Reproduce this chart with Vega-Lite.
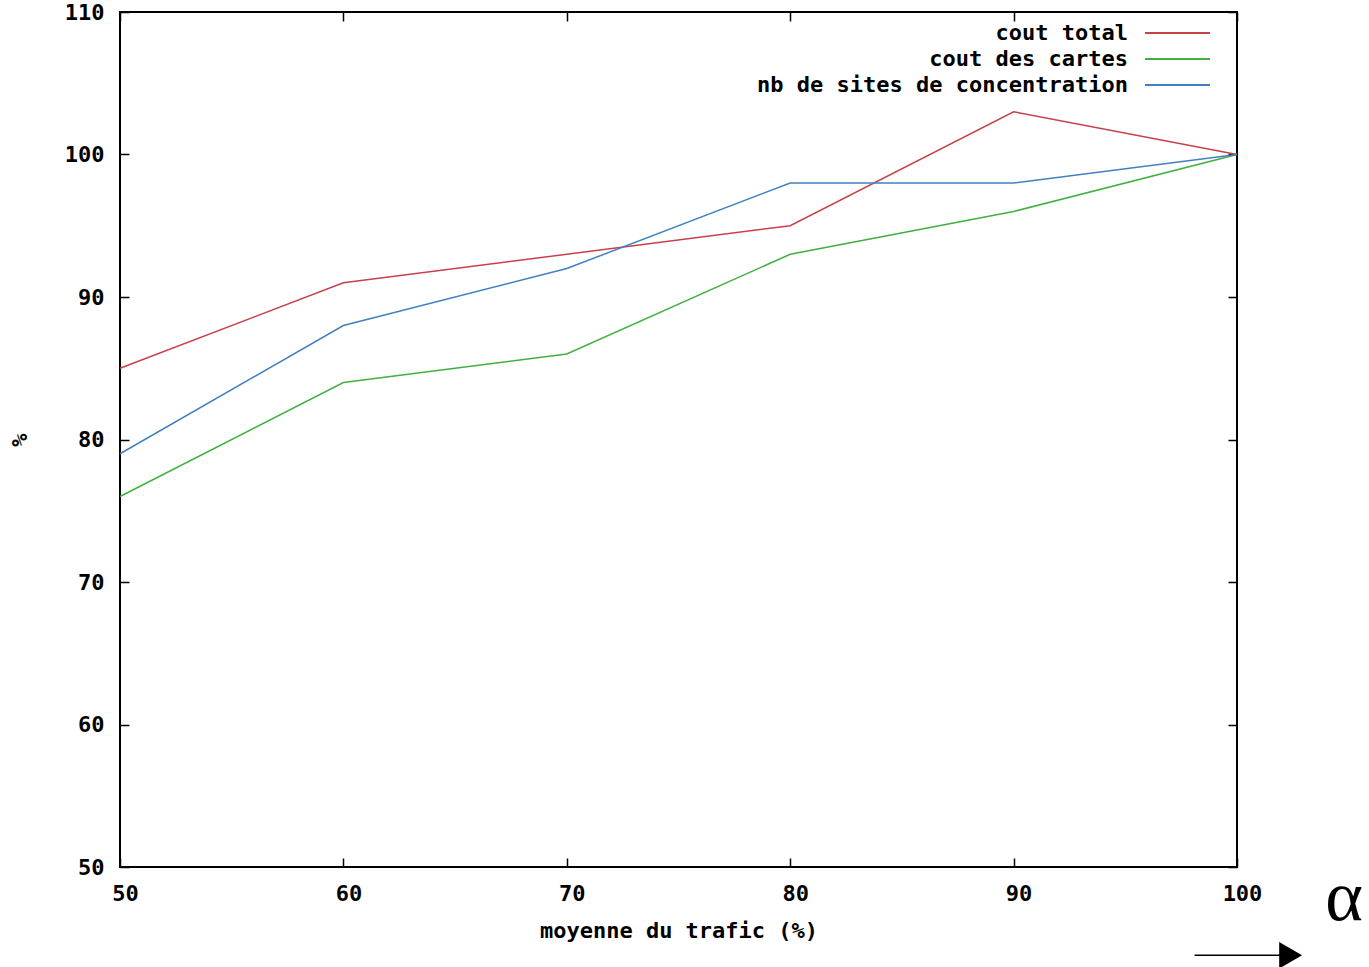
{
  "$schema": "https://vega.github.io/schema/vega-lite/v6.json",
  "width": 1117,
  "height": 855,
  "autosize": {"type": "none"},
  "padding": {"left": 120, "top": 12, "right": 132, "bottom": 100},
  "background": "white",
  "config": {
    "view": {"stroke": "black", "strokeWidth": 2},
    "font": "DejaVu Sans Mono",
    "axis": {
      "domain": false,
      "grid": false,
      "ticks": true,
      "tickColor": "black",
      "tickWidth": 1.5,
      "tickSize": -9,
      "labelFlush": false,
      "labelFont": "DejaVu Sans Mono",
      "labelFontWeight": "bold",
      "labelFontSize": 22,
      "labelColor": "black",
      "titleFont": "DejaVu Sans Mono",
      "titleFontWeight": "bold",
      "titleFontSize": 22,
      "titleColor": "black"
    },
    "text": {"font": "DejaVu Sans Mono", "fontWeight": "bold", "fontSize": 22, "color": "black"}
  },
  "datasets": {
    "series": [
      {"trafic": 50, "serie": "cout total", "pct": 85},
      {"trafic": 60, "serie": "cout total", "pct": 91},
      {"trafic": 70, "serie": "cout total", "pct": 93},
      {"trafic": 80, "serie": "cout total", "pct": 95},
      {"trafic": 90, "serie": "cout total", "pct": 103},
      {"trafic": 100, "serie": "cout total", "pct": 100},
      {"trafic": 50, "serie": "cout des cartes", "pct": 76},
      {"trafic": 60, "serie": "cout des cartes", "pct": 84},
      {"trafic": 70, "serie": "cout des cartes", "pct": 86},
      {"trafic": 80, "serie": "cout des cartes", "pct": 93},
      {"trafic": 90, "serie": "cout des cartes", "pct": 96},
      {"trafic": 100, "serie": "cout des cartes", "pct": 100},
      {"trafic": 50, "serie": "nb de sites de concentration", "pct": 79},
      {"trafic": 60, "serie": "nb de sites de concentration", "pct": 88},
      {"trafic": 70, "serie": "nb de sites de concentration", "pct": 92},
      {"trafic": 80, "serie": "nb de sites de concentration", "pct": 98},
      {"trafic": 90, "serie": "nb de sites de concentration", "pct": 98},
      {"trafic": 100, "serie": "nb de sites de concentration", "pct": 100}
    ],
    "one": [{}]
  },
  "resolve": {"axis": {"x": "independent", "y": "independent"}},
  "layer": [
    {
      "data": {"name": "series"},
      "mark": {"type": "line", "strokeWidth": 1.5},
      "encoding": {
        "x": {
          "field": "trafic", "type": "quantitative",
          "scale": {"domain": [50, 100], "nice": false, "zero": false},
          "axis": {"orient": "bottom", "values": [50, 60, 70, 80, 90, 100], "labelPadding": 25, "labelOffset": 5, "title": "moyenne du trafic (%)", "titlePadding": 16}
        },
        "y": {
          "field": "pct", "type": "quantitative",
          "scale": {"domain": [50, 110], "nice": false, "zero": false},
          "axis": {"orient": "left", "values": [50, 60, 70, 80, 90, 100, 110], "labelPadding": 25, "title": "%", "titlePadding": 33}
        },
        "color": {
          "field": "serie", "type": "nominal",
          "scale": {
            "domain": ["cout total", "cout des cartes", "nb de sites de concentration"],
            "range": ["#c8404a", "#40b040", "#4080c0"]
          },
          "legend": null
        }
      }
    },
    {
      "data": {"name": "series"},
      "mark": {"type": "line", "opacity": 0},
      "encoding": {
        "x": {
          "field": "trafic", "type": "quantitative",
          "axis": {"orient": "top", "values": [50, 60, 70, 80, 90, 100], "labels": false, "title": null}
        },
        "y": {
          "field": "pct", "type": "quantitative",
          "axis": {"orient": "right", "values": [50, 60, 70, 80, 90, 100, 110], "labels": false, "title": null}
        },
        "detail": {"field": "serie"}
      }
    },
    {
      "data": {"name": "one"},
      "mark": {"type": "text", "align": "right", "baseline": "middle"},
      "encoding": {
        "x": {"datum": 95.12, "type": "quantitative", "axis": null},
        "y": {"datum": 108.53, "type": "quantitative", "axis": null},
        "text": {"value": "cout total"}
      }
    },
    {
      "data": {"name": "one"},
      "mark": {"type": "text", "align": "right", "baseline": "middle"},
      "encoding": {
        "x": {"datum": 95.12, "type": "quantitative", "axis": null},
        "y": {"datum": 106.7, "type": "quantitative", "axis": null},
        "text": {"value": "cout des cartes"}
      }
    },
    {
      "data": {"name": "one"},
      "mark": {"type": "text", "align": "right", "baseline": "middle"},
      "encoding": {
        "x": {"datum": 95.12, "type": "quantitative", "axis": null},
        "y": {"datum": 104.88, "type": "quantitative", "axis": null},
        "text": {"value": "nb de sites de concentration"}
      }
    },
    {
      "data": {"name": "one"},
      "mark": {"type": "rule", "color": "#c8404a", "strokeWidth": 2},
      "encoding": {
        "x": {"datum": 95.88, "type": "quantitative", "axis": null},
        "x2": {"datum": 98.79},
        "y": {"datum": 108.53, "type": "quantitative", "axis": null}
      }
    },
    {
      "data": {"name": "one"},
      "mark": {"type": "rule", "color": "#40b040", "strokeWidth": 2},
      "encoding": {
        "x": {"datum": 95.88, "type": "quantitative", "axis": null},
        "x2": {"datum": 98.79},
        "y": {"datum": 106.7, "type": "quantitative", "axis": null}
      }
    },
    {
      "data": {"name": "one"},
      "mark": {"type": "rule", "color": "#4080c0", "strokeWidth": 2},
      "encoding": {
        "x": {"datum": 95.88, "type": "quantitative", "axis": null},
        "x2": {"datum": 98.79},
        "y": {"datum": 104.88, "type": "quantitative", "axis": null}
      }
    },
    {
      "data": {"name": "one"},
      "mark": {"type": "text", "font": "Liberation Serif", "fontWeight": "normal", "fontSize": 72, "align": "center", "baseline": "middle", "color": "black"},
      "encoding": {
        "x": {"datum": 104.8, "type": "quantitative", "axis": null},
        "y": {"datum": 47.8, "type": "quantitative", "axis": null},
        "text": {"value": "α"}
      }
    },
    {
      "data": {"name": "one"},
      "mark": {"type": "rule", "color": "black", "strokeWidth": 1.5},
      "encoding": {
        "x": {"datum": 98.1, "type": "quantitative", "axis": null},
        "x2": {"datum": 102.0},
        "y": {"datum": 43.8, "type": "quantitative", "axis": null}
      }
    },
    {
      "data": {"name": "one"},
      "mark": {"type": "point", "shape": "triangle-right", "filled": true, "color": "black", "opacity": 1, "size": 700},
      "encoding": {
        "x": {"datum": 102.4, "type": "quantitative", "axis": null},
        "y": {"datum": 43.8, "type": "quantitative", "axis": null}
      }
    }
  ]
}
